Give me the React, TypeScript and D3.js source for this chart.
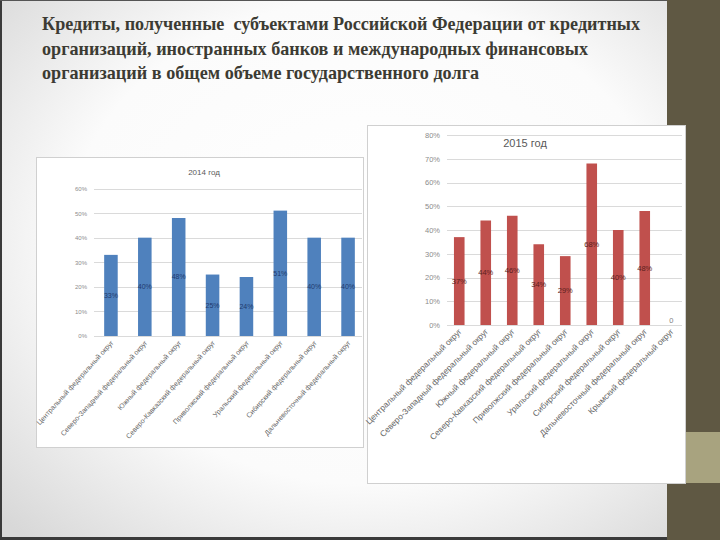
import React, { useEffect, useRef } from "react";
import * as d3 from "d3";

const titleLines = [
  "Кредиты, полученные  субъектами Российской Федерации от кредитных",
  "организаций, иностранных банков и международных финансовых",
  "организаций в общем объеме государственного долга",
];

const districts2014 = [
  "Центральный федеральный округ",
  "Северо-Западный федеральный округ",
  "Южный федеральный округ",
  "Северо-Кавказский федеральный округ",
  "Приволжский федеральный округ",
  "Уральский федеральный округ",
  "Сибирский федеральный округ",
  "Дальневосточный федеральный округ",
];
const values2014 = [33, 40, 48, 25, 24, 51, 40, 40];
const ticks2014 = [0, 10, 20, 30, 40, 50, 60];

const districts2015 = [
  "Центральный федеральный округ",
  "Северо-Западный федеральный округ",
  "Южный федеральный округ",
  "Северо-Кавказский федеральный округ",
  "Приволжский федеральный округ",
  "Уральский федеральный округ",
  "Сибирский федеральный округ",
  "Дальневосточный федеральный округ",
  "Крымский федеральный округ",
];
const values2015 = [37, 44, 46, 34, 29, 68, 40, 48, 0];
const ticks2015 = [0, 10, 20, 30, 40, 50, 60, 70, 80];

interface ChartConfig {
  box: { x: number; y: number; w: number; h: number };
  title: string;
  titleX: number;
  titleY: number;
  titleSize: number;
  categories: string[];
  values: number[];
  ticks: number[];
  plot: { left: number; right: number; top: number; bottom: number };
  gridLeft: number;
  gridRight: number;
  tickSize: number;
  labelSize: number;
  catSize: number;
  angle: number;
  barColor: string;
  labelColor: string;
}

function drawChart(
  svg: d3.Selection<SVGSVGElement, unknown, null, undefined>,
  c: ChartConfig
) {
  const g = svg.append("g");

  // chart area
  g.append("rect")
    .attr("x", c.box.x + 0.5)
    .attr("y", c.box.y + 0.5)
    .attr("width", c.box.w)
    .attr("height", c.box.h)
    .attr("fill", "#ffffff")
    .attr("stroke", "#d0d0d0");

  const x = d3
    .scaleBand<string>()
    .domain(c.categories)
    .range([c.plot.left, c.plot.right])
    .paddingInner(0.6)
    .paddingOuter(0.3);

  const maxTick = c.ticks[c.ticks.length - 1];
  const y = d3
    .scaleLinear()
    .domain([0, maxTick])
    .range([c.plot.bottom, c.plot.top]);

  // gridlines
  g.append("g")
    .selectAll("line")
    .data(c.ticks)
    .enter()
    .append("line")
    .attr("x1", c.gridLeft)
    .attr("x2", c.gridRight)
    .attr("y1", (d) => Math.round(y(d)) + 0.5)
    .attr("y2", (d) => Math.round(y(d)) + 0.5)
    .attr("stroke", "#dadada")
    .attr("stroke-width", 1);

  // y axis labels
  const yAxis = g
    .append("g")
    .attr("transform", `translate(${c.gridLeft - 4},0)`)
    .call(
      d3
        .axisLeft(y)
        .tickValues(c.ticks)
        .tickSize(0)
        .tickFormat((d) => `${d}%`)
    );
  yAxis.select(".domain").remove();
  yAxis
    .selectAll("text")
    .style("font-family", "Liberation Sans, Arial, sans-serif")
    .style("font-size", `${c.tickSize}px`)
    .style("fill", "#8c8c8c");

  // bars
  g.append("g")
    .selectAll("rect")
    .data(c.values)
    .enter()
    .append("rect")
    .attr("x", (_, i) => x(c.categories[i]) as number)
    .attr("y", (d) => y(d))
    .attr("width", x.bandwidth())
    .attr("height", (d) => y(0) - y(d))
    .attr("fill", c.barColor);

  // data labels
  g.append("g")
    .selectAll("text")
    .data(c.values)
    .enter()
    .append("text")
    .attr("x", (_, i) => (x(c.categories[i]) as number) + x.bandwidth() / 2)
    .attr("y", (d) => (d === 0 ? y(0) - 2 : (y(0) + y(d)) / 2 + c.labelSize * 0.35))
    .attr("text-anchor", "middle")
    .style("font-family", "Liberation Sans, Arial, sans-serif")
    .style("font-size", `${c.labelSize}px`)
    .style("fill", (d) => (d === 0 ? "#7f7f7f" : c.labelColor))
    .text((d) => (d === 0 ? "0" : `${d}%`));

  // category labels
  g.append("g")
    .selectAll("text")
    .data(c.categories)
    .enter()
    .append("text")
    .attr(
      "transform",
      (d) =>
        `translate(${(x(d) as number) + x.bandwidth() / 2 + 3},${c.plot.bottom + 7}) rotate(${c.angle})`
    )
    .attr("text-anchor", "end")
    .style("font-family", "Liberation Sans, Arial, sans-serif")
    .style("font-size", `${c.catSize}px`)
    .style("fill", "#666666")
    .text((d) => d);

  // title
  g.append("text")
    .attr("x", c.titleX)
    .attr("y", c.titleY)
    .attr("text-anchor", "middle")
    .style("font-family", "Liberation Sans, Arial, sans-serif")
    .style("font-size", `${c.titleSize}px`)
    .style("fill", "#595959")
    .text(c.title);
}

const App: React.FC = () => {
  const svgRef = useRef<SVGSVGElement | null>(null);

  useEffect(() => {
    const width = 720;
    const height = 540;
    const svg = d3
      .select(svgRef.current as SVGSVGElement)
      .attr("width", width)
      .attr("height", height);
    svg.selectAll("*").remove();

    // slide background
    const defs = svg.append("defs");
    const grad = defs
      .append("radialGradient")
      .attr("id", "slideBg")
      .attr("cx", "55%")
      .attr("cy", "45%")
      .attr("r", "75%");
    grad.append("stop").attr("offset", "0%").attr("stop-color", "#ffffff");
    grad.append("stop").attr("offset", "60%").attr("stop-color", "#fbfbfb");
    grad.append("stop").attr("offset", "100%").attr("stop-color", "#d8d8d8");

    svg.append("rect")
      .attr("x", 0)
      .attr("y", 0)
      .attr("width", width)
      .attr("height", height)
      .attr("fill", "#5f5843");
    svg.append("rect")
      .attr("x", 0)
      .attr("y", 0)
      .attr("width", 667)
      .attr("height", 538)
      .attr("fill", "url(#slideBg)");
    svg.append("rect")
      .attr("x", 0)
      .attr("y", 0)
      .attr("width", 2)
      .attr("height", height)
      .attr("fill", "#3a3a3a");
    svg.append("rect")
      .attr("x", 0)
      .attr("y", 537)
      .attr("width", 667)
      .attr("height", 3)
      .attr("fill", "#3a3a3a");
    svg.append("rect")
      .attr("x", 0)
      .attr("y", 0)
      .attr("width", 667)
      .attr("height", 1)
      .attr("fill", "#555555");
    svg.append("rect")
      .attr("x", 685)
      .attr("y", 432)
      .attr("width", 35)
      .attr("height", 51)
      .attr("fill", "#a8a37f");

    // slide title
    const titleLengths = [598, 546, 437];
    svg.append("g")
      .selectAll("text")
      .data(titleLines)
      .enter()
      .append("text")
      .attr("x", 42)
      .attr("y", (_, i) => 30 + i * 24.5)
      .attr("textLength", (_, i) => titleLengths[i])
      .attr("lengthAdjust", "spacingAndGlyphs")
      .style("white-space", "pre")
      .style("font-family", "Liberation Serif, Times New Roman, serif")
      .style("font-weight", "bold")
      .style("font-size", "19px")
      .style("fill", "#3c3b33")
      .text((d) => d);

    drawChart(svg, {
      box: { x: 36, y: 157, w: 327, h: 290 },
      title: "2014 год",
      titleX: 204,
      titleY: 175,
      titleSize: 8,
      categories: districts2014,
      values: values2014,
      ticks: ticks2014,
      plot: { left: 94, right: 365, top: 188.5, bottom: 336 },
      gridLeft: 94,
      gridRight: 362,
      tickSize: 6,
      labelSize: 7,
      catSize: 7,
      angle: -48,
      barColor: "#4f81bd",
      labelColor: "#1f3a6e",
    });

    drawChart(svg, {
      box: { x: 367, y: 125, w: 318, h: 358 },
      title: "2015 год",
      titleX: 525,
      titleY: 147,
      titleSize: 11,
      categories: districts2015,
      values: values2015,
      ticks: ticks2015,
      plot: { left: 446, right: 684.5, top: 135, bottom: 325 },
      gridLeft: 447,
      gridRight: 682,
      tickSize: 7.5,
      labelSize: 7.5,
      catSize: 8.3,
      angle: -45,
      barColor: "#c0504d",
      labelColor: "#5b1f1d",
    });
  }, []);

  return (
    <svg
      ref={svgRef}
      style={{ position: "absolute", left: 0, top: 0, display: "block" }}
    ></svg>
  );
};

export default App;
